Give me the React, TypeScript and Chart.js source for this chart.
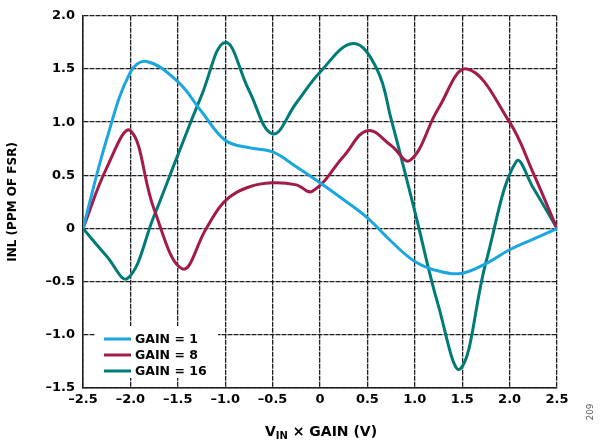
import React, { useEffect, useRef } from 'react';
import { Chart, registerables } from 'chart.js';

Chart.register(...registerables);

// ---- Data ----
const SERIES_LABELS = ['GAIN = 1', 'GAIN = 8', 'GAIN = 16'];
const SERIES_COLORS = ['#1ba6dd', '#a31c48', '#007b77'];

const G1_X = [-2.5, -2.25, -2.0, -1.83, -1.5, -1.25, -1.0, -0.75, -0.5, -0.25, 0, 0.25, 0.5, 0.75, 1.0, 1.25, 1.5, 1.75, 2.0, 2.25, 2.5];
const G1_Y = [0, 0.84, 1.47, 1.57, 1.38, 1.1, 0.83, 0.76, 0.72, 0.58, 0.43, 0.27, 0.1, -0.12, -0.31, -0.4, -0.42, -0.33, -0.2, -0.1, 0];

const G8_X = [-2.5, -2.25, -2.0, -1.75, -1.45, -1.2, -1.0, -0.75, -0.5, -0.25, -0.08, 0.25, 0.5, 0.75, 0.95, 1.25, 1.55, 2.0, 2.25, 2.5];
const G8_Y = [0, 0.57, 0.92, 0.18, -0.38, 0.0, 0.26, 0.39, 0.43, 0.41, 0.35, 0.68, 0.92, 0.78, 0.64, 1.13, 1.5, 1.0, 0.52, 0];

const G16_X = [-2.5, -2.25, -2.03, -1.75, -1.5, -1.25, -1.0, -0.75, -0.5, -0.25, 0, 0.35, 0.6, 0.75, 1.0, 1.25, 1.48, 1.75, 2.07, 2.25, 2.5];
const G16_Y = [0, -0.26, -0.47, 0.12, 0.69, 1.25, 1.75, 1.3, 0.89, 1.18, 1.47, 1.74, 1.5, 1.03, 0.16, -0.73, -1.32, -0.32, 0.63, 0.38, 0];

const X_MIN = -2.5, X_MAX = 2.5, X_STEP = 0.5;
const Y_MIN = -1.5, Y_MAX = 2.0, Y_STEP = 0.5;

const FONT = '"DejaVu Sans", sans-serif';
const GRID = '#1e1e1e';

function fmt(v: number): string {
  const r = Math.round(v * 10) / 10;
  if (r === 0) return '0';
  return (r < 0 ? '\u2013' : '') + Math.abs(r).toFixed(1);
}

const overlayPlugin = {
  id: 'overlay',
  beforeDatasetsDraw(chart: any) {
    const ctx = chart.ctx as CanvasRenderingContext2D;
    const ca = chart.chartArea;
    ctx.save();
    const bx = ca.left + 12;
    const by = ca.bottom - 62;
    ctx.fillStyle = '#ffffff';
    ctx.fillRect(bx, by, 123, 52);
    ctx.font = `bold 12.5px ${FONT}`;
    ctx.textBaseline = 'middle';
    ctx.textAlign = 'left';
    SERIES_LABELS.forEach((lab, i) => {
      const y = by + 13 + i * 16;
      ctx.strokeStyle = SERIES_COLORS[i];
      ctx.lineWidth = 3;
      ctx.beginPath();
      ctx.moveTo(bx + 9, y);
      ctx.lineTo(bx + 36, y);
      ctx.stroke();
      ctx.fillStyle = '#000';
      ctx.fillText(lab, bx + 40, y + 0.5);
    });
    ctx.restore();
  },
  afterDraw(chart: any) {
    const ctx = chart.ctx as CanvasRenderingContext2D;
    const ca = chart.chartArea;
    ctx.save();
    ctx.fillStyle = '#000';
    ctx.font = `bold 12px ${FONT}`;
    ctx.textAlign = 'center';
    ctx.textBaseline = 'middle';
    ctx.translate(13, (ca.top + ca.bottom) / 2);
    ctx.rotate(-Math.PI / 2);
    ctx.fillText('INL (PPM OF FSR)', 0, 0);
    ctx.restore();

    ctx.save();
    ctx.fillStyle = '#000';
    ctx.textBaseline = 'alphabetic';
    ctx.textAlign = 'left';
    const mainFont = `bold 14px ${FONT}`;
    const subFont = `bold 10px ${FONT}`;
    ctx.font = mainFont;
    const wV = ctx.measureText('V').width;
    const wRest = ctx.measureText(' \u00d7 GAIN (V)').width;
    ctx.font = subFont;
    const wIN = ctx.measureText('IN').width;
    const total = wV + wIN + wRest;
    const cx = (ca.left + ca.right) / 2 + 1;
    let x = cx - total / 2;
    const base = 436;
    ctx.font = mainFont;
    ctx.fillText('V', x, base);
    x += wV;
    ctx.font = subFont;
    ctx.fillText('IN', x, base + 3);
    x += wIN;
    ctx.font = mainFont;
    ctx.fillText(' \u00d7 GAIN (V)', x, base);
    ctx.restore();

    ctx.save();
    ctx.fillStyle = '#555';
    ctx.font = `9px ${FONT}`;
    ctx.textAlign = 'center';
    ctx.textBaseline = 'middle';
    ctx.translate(591, 412);
    ctx.rotate(-Math.PI / 2);
    ctx.fillText('209', 0, 0);
    ctx.restore();
  },
};

export default function App() {
  const ref = useRef<HTMLCanvasElement | null>(null);
  useEffect(() => {
    if (!ref.current) return;
    const mk = (xs: number[], ys: number[]) => xs.map((x, i) => ({ x, y: ys[i] }));
    const series = [mk(G1_X, G1_Y), mk(G8_X, G8_Y), mk(G16_X, G16_Y)];
    const chart = new Chart(ref.current, {
      type: 'line',
      data: {
        datasets: series.map((d, i) => ({
          label: SERIES_LABELS[i],
          data: d,
          borderColor: SERIES_COLORS[i],
          backgroundColor: SERIES_COLORS[i],
          borderWidth: 3,
          pointRadius: 0,
          tension: 0.4,
          fill: false,
        })),
      },
      options: {
        animation: false,
        responsive: false,
        maintainAspectRatio: false,
        layout: { padding: { top: 8, right: 50, left: 0, bottom: 0 } },
        plugins: { legend: { display: false }, tooltip: { enabled: false }, title: { display: false } },
        scales: {
          x: {
            type: 'linear',
            min: X_MIN,
            max: X_MAX,
            afterFit: (s: any) => { s.height = 56; },
            afterBuildTicks: (s: any) => {
              const t = [];
              for (let v = X_MIN; v <= X_MAX + 1e-9; v += X_STEP) t.push({ value: Math.round(v * 10) / 10 });
              s.ticks = t;
            },
            ticks: {
              callback: (v: any) => fmt(Number(v)),
              color: '#000',
              font: { family: FONT, weight: 'bold', size: 13 },
              padding: 4,
              maxRotation: 0,
              autoSkip: false,
            },
            grid: { color: GRID, lineWidth: 1.3, drawTicks: false },
            border: { color: GRID, width: 1.5, dash: [5, 1] },
          },
          y: {
            type: 'linear',
            min: Y_MIN,
            max: Y_MAX,
            afterFit: (s: any) => { s.width = 83; },
            afterBuildTicks: (s: any) => {
              const t = [];
              for (let v = Y_MIN; v <= Y_MAX + 1e-9; v += Y_STEP) t.push({ value: Math.round(v * 10) / 10 });
              s.ticks = t;
            },
            ticks: {
              callback: (v: any) => fmt(Number(v)),
              color: '#000',
              font: { family: FONT, weight: 'bold', size: 13 },
              padding: 8,
              autoSkip: false,
            },
            grid: { color: GRID, lineWidth: 1.3, drawTicks: false },
            border: { color: GRID, width: 1.5, dash: [5, 1] },
          },
        },
      } as any,
      plugins: [overlayPlugin],
    });
    return () => chart.destroy();
  }, []);
  return (
    <div style={{ position: 'absolute', left: 0, top: 0, width: 607, height: 444, background: '#fff' }}>
      <canvas ref={ref} width={607} height={444} style={{ width: 607, height: 444, display: 'block' }} />
    </div>
  );
}
